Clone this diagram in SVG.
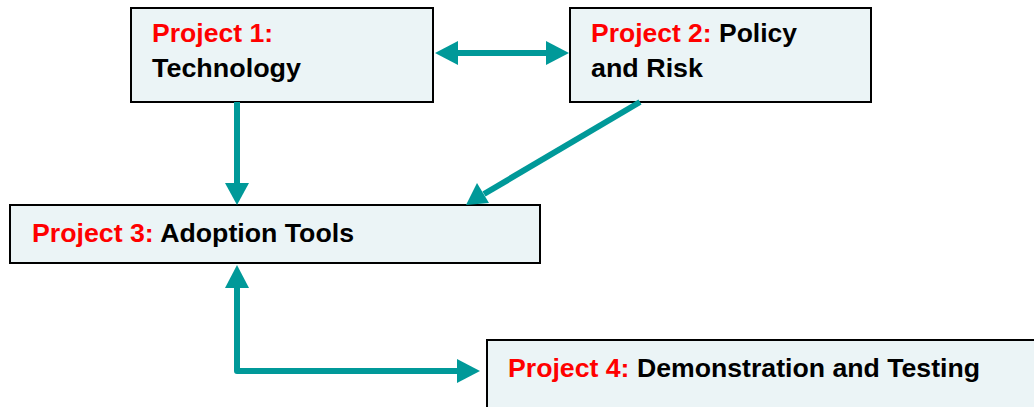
<svg xmlns="http://www.w3.org/2000/svg" width="1034" height="407" viewBox="0 0 1034 407">
<style>
.box{fill:#ebf4f6;stroke:#000;stroke-width:2}
text{font-family:"Liberation Sans",Arial,sans-serif;font-weight:bold;font-size:26px;fill:#000}
.r{fill:#ff0000}
.c{stroke:#009999;stroke-width:6;fill:none;stroke-linejoin:round}
.h{fill:#009999}
</style>
<rect width="1034" height="407" fill="#fff"/>
<g id="node1"><rect class="box" x="131" y="8" width="302" height="94"/><text x="152" y="42" textLength="121" lengthAdjust="spacingAndGlyphs"><tspan class="r">Project 1:</tspan></text><text x="152" y="77" textLength="149" lengthAdjust="spacingAndGlyphs">Technology</text></g>
<g id="node2"><rect class="box" x="570" y="8" width="301" height="94"/><text x="591" y="42" textLength="206" lengthAdjust="spacingAndGlyphs"><tspan class="r">Project 2:</tspan> Policy</text><text x="591" y="77" textLength="112" lengthAdjust="spacingAndGlyphs">and Risk</text></g>
<g id="node3"><rect class="box" x="10" y="205" width="530" height="58"/><text x="32" y="242" textLength="322" lengthAdjust="spacingAndGlyphs"><tspan class="r">Project 3:</tspan> Adoption Tools</text></g>
<g id="node4"><rect class="box" x="487" y="340" width="560" height="80"/><text x="508" y="377" textLength="472" lengthAdjust="spacingAndGlyphs"><tspan class="r">Project 4:</tspan> Demonstration and Testing</text></g>
<g id="connectors">
<line class="c" x1="455" y1="53" x2="548" y2="53"/>
<polygon class="h" points="435,53 458,41 458,65"/>
<polygon class="h" points="569,53 546,41 546,65"/>
<line class="c" x1="237" y1="102" x2="237" y2="185"/>
<polygon class="h" points="237,205 225,183 249,183"/>
<line class="c" x1="640" y1="102" x2="484" y2="194"/>
<polygon class="h" points="466,205 477,183 489,203"/>
<polyline class="c" points="237,285 237,371 458,371"/>
<polygon class="h" points="237,265 225,288 249,288"/>
<polygon class="h" points="480,371 457,359 457,383"/>
</g>
</svg>
